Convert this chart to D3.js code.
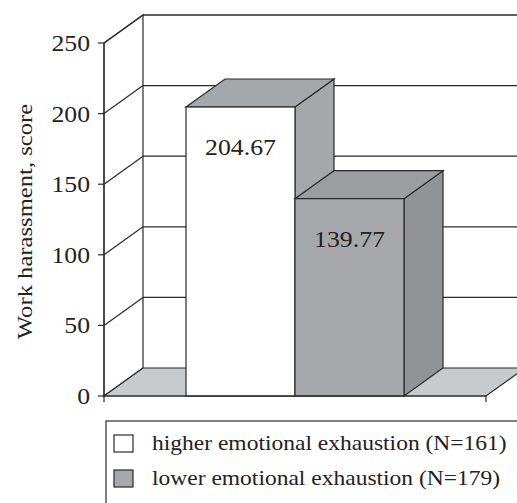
<!DOCTYPE html>
<html>
<head>
<meta charset="utf-8">
<script src="https://cdn.jsdelivr.net/npm/d3@7"></script>
<style>
  body { margin: 0; background: #fff; }
  text { font-family: "Liberation Serif", "Times New Roman", serif; fill: #222; }
</style>
</head>
<body>
<div id="chart"></div>
<script>
// chart data
const groups = ["higher emotional exhaustion (N=161)", "lower emotional exhaustion (N=179)"]
const scores = [204.67, 139.77]
const valueLabels = ["204.67", "139.77"]
const yTicks = [0, 50, 100, 150, 200, 250]

const width = 517, height = 503
const plotLeft = 104, plotRight = 486, plotBottom = 396, plotTop = 43
const dx = 39, dy = -28 // depth offset of the 3D box
const line = "#2a2a2a"
const sx = 1.12 // the original type is a bit wider than Liberation Serif

const svg = d3.select("#chart").append("svg")
  .attr("width", width).attr("height", height)

const y = d3.scaleLinear().domain([0, 250]).range([plotBottom, plotTop])
const x = d3.scaleBand().domain(groups).range([186, 404]).padding(0)

const poly = (pts) => "M" + pts.map((p) => p.join(",")).join("L") + "Z"

// text helper, stretched horizontally along its baseline
function label(parent, tx, ty, str, size, anchor, rot) {
  return parent.append("text")
    .attr("transform", `translate(${tx},${ty})${rot ? ` rotate(${rot})` : ""} scale(${sx},1)`)
    .attr("text-anchor", anchor).attr("font-size", size)
    .text(str)
}

// left wall + back wall outline
svg.append("path")
  .attr("d", poly([[plotLeft, plotBottom], [plotLeft + dx, plotBottom + dy], [plotLeft + dx, y(250) + dy], [plotLeft, y(250)]]))
  .attr("fill", "#fff").attr("stroke", line).attr("stroke-width", 1.2)
svg.append("line")
  .attr("x1", plotLeft + dx).attr("y1", y(250) + dy).attr("x2", plotRight + dx).attr("y2", y(250) + dy)
  .attr("stroke", line).attr("stroke-width", 1.2)

// grid lines on the walls
yTicks.forEach((t) => {
  if (t === 0) return
  svg.append("line")
    .attr("x1", plotLeft).attr("y1", y(t)).attr("x2", plotLeft + dx).attr("y2", y(t) + dy)
    .attr("stroke", line).attr("stroke-width", 1.2)
  svg.append("line")
    .attr("x1", plotLeft + dx).attr("y1", y(t) + dy).attr("x2", plotRight + dx).attr("y2", y(t) + dy)
    .attr("stroke", line).attr("stroke-width", 1.2)
})

// floor
svg.append("path")
  .attr("d", poly([[plotLeft, plotBottom], [plotRight, plotBottom], [plotRight + dx, plotBottom + dy], [plotLeft + dx, plotBottom + dy]]))
  .attr("fill", "#c9cacc").attr("stroke", line).attr("stroke-width", 1.2)

// bars
const faces = [
  { front: "#ffffff", top: "#a6a7aa", side: "#a6a7aa" },
  { front: "#a7a8ab", top: "#9c9da0", side: "#929396" }
]
groups.forEach((g, i) => {
  const x0 = x(g), x1 = x(g) + x.bandwidth()
  const yt = y(scores[i]), yb = y(0)
  const c = faces[i]
  const bar = svg.append("g")
  bar.append("path")
    .attr("d", poly([[x1, yb], [x1 + dx, yb + dy], [x1 + dx, yt + dy], [x1, yt]]))
    .attr("fill", c.side).attr("stroke", line).attr("stroke-width", 1.2)
  bar.append("path")
    .attr("d", poly([[x0, yt], [x1, yt], [x1 + dx, yt + dy], [x0 + dx, yt + dy]]))
    .attr("fill", c.top).attr("stroke", line).attr("stroke-width", 1.2)
  bar.append("rect")
    .attr("x", x0).attr("y", yt).attr("width", x1 - x0).attr("height", yb - yt)
    .attr("fill", c.front).attr("stroke", line).attr("stroke-width", 1.2)
  label(bar, (x0 + x1) / 2, yt + 48, valueLabels[i], 23, "middle")
})

// front y axis
svg.append("line")
  .attr("x1", plotLeft).attr("y1", y(0) + 6).attr("x2", plotLeft).attr("y2", y(250))
  .attr("stroke", line).attr("stroke-width", 1.2)
yTicks.forEach((t) => {
  svg.append("line")
    .attr("x1", plotLeft - 6).attr("y1", y(t)).attr("x2", plotLeft).attr("y2", y(t))
    .attr("stroke", line).attr("stroke-width", 1.2)
  label(svg, plotLeft - 14, y(t) + 8, t, 23, "end")
})

// front x axis
svg.append("line")
  .attr("x1", plotLeft).attr("y1", plotBottom).attr("x2", plotRight).attr("y2", plotBottom)
  .attr("stroke", line).attr("stroke-width", 1.2)
svg.append("line")
  .attr("x1", plotRight).attr("y1", plotBottom).attr("x2", plotRight).attr("y2", plotBottom + 6)
  .attr("stroke", line).attr("stroke-width", 1.2)

// y axis title
label(svg, 32, (y(0) + y(250)) / 2 + 2, "Work harassment, score", 22, "middle", -90)

// legend
const legend = svg.append("g")
legend.append("rect")
  .attr("x", 106).attr("y", 421).attr("width", 430).attr("height", 100)
  .attr("fill", "#fff").attr("stroke", line).attr("stroke-width", 1.2)
groups.forEach((g, i) => {
  const ly = 443 + i * 35
  legend.append("rect")
    .attr("x", 114).attr("y", ly - 8).attr("width", 19).attr("height", 17)
    .attr("fill", faces[i].front).attr("stroke", line).attr("stroke-width", 1.2)
  label(legend, 152, ly + 7, g, 21, "start")
})
</script>
</body>
</html>
